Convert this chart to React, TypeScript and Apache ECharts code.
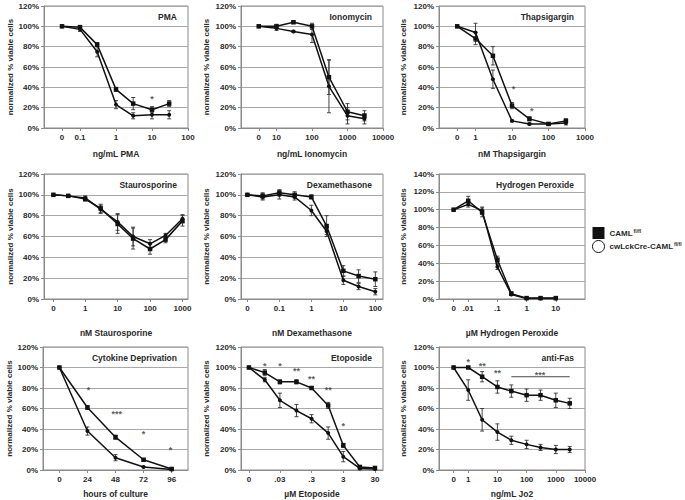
import React, { useEffect, useRef } from "react";
import * as echarts from "echarts";

// ---------------- DATA ----------------
// PMA
const PMA_CONC = [0, 0.1, 0.3, 1, 3, 10, 30];
const PMA_CAML = [100, 99, 82, 38, 24, 18, 24];
const PMA_CAML_ERR = [0, 2, 2, 2, 6, 3, 3];
const PMA_KO = [100, 97, 75, 23, 12, 13, 13];
const PMA_KO_ERR = [0, 2, 5, 4, 3, 4, 4];
const PMA_TICKS = [0, 0.1, 1, 10, 100];
const PMA_TICK_LABELS = ["0", "0.1", "1", "10", "100"];
const PMA_STAR_X = [10];
const PMA_STAR_Y = [31];
const PMA_STAR_TEXT = ["*"];

// Ionomycin
const IONO_CONC = [0, 10, 30, 100, 300, 1000, 3000];
const IONO_CAML = [100, 100, 104, 100, 50, 16, 12];
const IONO_CAML_ERR = [0, 2, 1, 3, 17, 8, 5];
const IONO_KO = [100, 98, 95, 92, 41, 12, 9];
const IONO_KO_ERR = [0, 2, 1, 8, 26, 8, 5];
const IONO_TICKS = [0, 10, 100, 1000, 10000];
const IONO_TICK_LABELS = ["0", "10", "100", "1000", "10000"];

// Thapsigargin
const THAP_CONC = [0, 1, 3, 10, 30, 100, 300];
const THAP_CAML = [100, 88, 71, 22, 9, 4, 7];
const THAP_CAML_ERR = [0, 6, 9, 3, 2, 1, 2];
const THAP_KO = [100, 94, 48, 7, 4, 4, 5];
const THAP_KO_ERR = [0, 9, 9, 1, 1, 1, 2];
const THAP_TICKS = [0, 1, 10, 100, 1000];
const THAP_TICK_LABELS = ["0", "1", "10", "100", "1000"];
const THAP_STAR_X = [11, 35];
const THAP_STAR_Y = [41, 20];
const THAP_STAR_TEXT = ["*", "*"];

// Staurosporine
const STAU_CONC = [0, 0.3, 1, 3, 10, 30, 100, 300, 1000];
const STAU_CAML = [100, 99, 96, 87, 72, 58, 48, 57, 75];
const STAU_CAML_ERR = [0, 1, 2, 4, 9, 10, 5, 3, 5];
const STAU_KO = [100, 99, 97, 86, 74, 60, 53, 61, 77];
const STAU_KO_ERR = [0, 1, 2, 4, 8, 9, 4, 2, 4];
const STAU_TICKS = [0, 1, 10, 100, 1000];
const STAU_TICK_LABELS = ["0", "1", "10", "100", "1000"];

// Dexamethasone
const DEXA_CONC = [0, 0.03, 0.1, 0.3, 1, 3, 10, 30, 100];
const DEXA_CAML = [100, 99, 102, 100, 98, 70, 27, 22, 19];
const DEXA_CAML_ERR = [0, 3, 3, 3, 2, 10, 5, 6, 7];
const DEXA_KO = [100, 98, 100, 98, 85, 65, 18, 12, 7];
const DEXA_KO_ERR = [0, 3, 4, 3, 5, 3, 4, 3, 3];
const DEXA_TICKS = [0, 0.1, 1, 10, 100];
const DEXA_TICK_LABELS = ["0", "0.1", "1", "10", "100"];

// Hydrogen peroxide
const H2O2_CONC = [0, 0.01, 0.03, 0.1, 0.3, 1, 3, 10];
const H2O2_CAML = [100, 110, 97, 44, 6, 1, 1, 1];
const H2O2_CAML_ERR = [0, 5, 5, 4, 2, 0, 0, 0];
const H2O2_KO = [100, 106, 99, 36, 5, 0.5, 0.5, 0.5];
const H2O2_KO_ERR = [0, 3, 4, 3, 1, 0, 0, 0];
const H2O2_TICKS = [0, 0.01, 0.1, 1, 10];
const H2O2_TICK_LABELS = ["0", ".01", ".1", "1", "10"];

// Cytokine deprivation
const CYTO_HOURS = [0, 24, 48, 72, 96];
const CYTO_CAML = [100, 61, 32, 10, 1];
const CYTO_CAML_ERR = [0, 2, 2, 1, 1];
const CYTO_KO = [100, 38, 12, 3, 0.5];
const CYTO_KO_ERR = [0, 4, 3, 0.5, 0];
const CYTO_TICKS = [0, 24, 48, 72, 96];
const CYTO_TICK_LABELS = ["0", "24", "48", "72", "96"];
const CYTO_STAR_X = [25, 49, 72, 95];
const CYTO_STAR_Y = [81, 58, 38, 22];
const CYTO_STAR_TEXT = ["*", "***", "*", "*"];

// Etoposide
const ETOP_CONC = [0, 0.01, 0.03, 0.1, 0.3, 1, 3, 10, 30];
const ETOP_CAML = [100, 95, 86, 86, 80, 63, 24, 3, 2];
const ETOP_CAML_ERR = [0, 3, 2, 2, 1, 3, 2, 1, 1];
const ETOP_KO = [100, 88, 68, 58, 50, 36, 13, 1.5, 1];
const ETOP_KO_ERR = [0, 2, 7, 6, 4, 6, 5, 1, 0.5];
const ETOP_TICKS = [0, 0.03, 0.3, 3, 30];
const ETOP_TICK_LABELS = ["0", ".03", ".3", "3", "30"];
const ETOP_STAR_X = [0.01, 0.03, 0.1, 0.3, 1, 3];
const ETOP_STAR_Y = [104.5, 104.5, 100, 91.5, 81, 45.5];
const ETOP_STAR_TEXT = ["*", "*", "**", "**", "**", "*"];

// anti-Fas
const FAS_CONC = [0, 1, 3, 10, 30, 100, 300, 1000, 3000];
const FAS_CAML = [100, 100, 91, 81, 77, 73, 73, 68, 65];
const FAS_CAML_ERR = [0, 1, 5, 6, 6, 6, 5, 7, 5];
const FAS_KO = [100, 78, 49, 37, 29, 25, 22, 20, 20];
const FAS_KO_ERR = [0, 10, 11, 8, 4, 4, 3, 4, 3];
const FAS_TICKS = [0, 1, 10, 100, 1000, 10000];
const FAS_TICK_LABELS = ["0", "1", "10", "100", "1000", "10000"];
const FAS_STAR_X = [1, 3, 10, 290];
const FAS_STAR_Y = [108.5, 104.5, 98, 95.5];
const FAS_STAR_TEXT = ["*", "**", "**", "***"];
const FAS_BRACKET_X = [30, 3000];
const FAS_BRACKET_Y = 91;

const SERIES_NAMES = ["CAML", "cwLckCre-CAML"];
const Y_TITLE = "normalized % viable cells";

// ---------------- LAYOUT ----------------
const FONT = "'Liberation Sans', Arial, sans-serif";
const TEXT = "#2a2a2a";

type Panel = {
  title: string;
  xName: string;
  conc: number[];
  caml: number[];
  camlErr: number[];
  ko: number[];
  koErr: number[];
  ticks: number[];
  tickLabels: string[];
  starX?: number[];
  starY?: number[];
  starText?: string[];
  bracketX?: number[];
  bracketY?: number;
  linear?: boolean;
  zero: number;
  xMin: number;
  xMax: number;
  yMax: number;
  box: [number, number, number, number];
  xNameGap: number;
  yNameGap: number;
};

const panels: Panel[] = [
  { title: "PMA", xName: "ng/mL PMA", conc: PMA_CONC, caml: PMA_CAML, camlErr: PMA_CAML_ERR, ko: PMA_KO, koErr: PMA_KO_ERR, ticks: PMA_TICKS, tickLabels: PMA_TICK_LABELS, starX: PMA_STAR_X, starY: PMA_STAR_Y, starText: PMA_STAR_TEXT, zero: -1.5, xMin: -2, xMax: 2, yMax: 120, box: [44, 6, 144, 122], xNameGap: 21, yNameGap: 28 },
  { title: "Ionomycin", xName: "ng/mL Ionomycin", conc: IONO_CONC, caml: IONO_CAML, camlErr: IONO_CAML_ERR, ko: IONO_KO, koErr: IONO_KO_ERR, ticks: IONO_TICKS, tickLabels: IONO_TICK_LABELS, zero: 0.5, xMin: 0, xMax: 4, yMax: 120, box: [241, 6, 142, 122], xNameGap: 21, yNameGap: 31 },
  { title: "Thapsigargin", xName: "nM Thapsigargin", conc: THAP_CONC, caml: THAP_CAML, camlErr: THAP_CAML_ERR, ko: THAP_KO, koErr: THAP_KO_ERR, ticks: THAP_TICKS, tickLabels: THAP_TICK_LABELS, starX: THAP_STAR_X, starY: THAP_STAR_Y, starText: THAP_STAR_TEXT, zero: -0.5, xMin: -1, xMax: 3, yMax: 120, box: [439, 6, 146, 122], xNameGap: 21, yNameGap: 32 },
  { title: "Staurosporine", xName: "nM Staurosporine", conc: STAU_CONC, caml: STAU_CAML, camlErr: STAU_CAML_ERR, ko: STAU_KO, koErr: STAU_KO_ERR, ticks: STAU_TICKS, tickLabels: STAU_TICK_LABELS, zero: -0.98, xMin: -1.27, xMax: 3.17, yMax: 120, box: [44, 174, 144, 125], xNameGap: 29, yNameGap: 28 },
  { title: "Dexamethasone", xName: "nM Dexamethasone", conc: DEXA_CONC, caml: DEXA_CAML, camlErr: DEXA_CAML_ERR, ko: DEXA_KO, koErr: DEXA_KO_ERR, ticks: DEXA_TICKS, tickLabels: DEXA_TICK_LABELS, zero: -2, xMin: -2.2, xMax: 2.24, yMax: 120, box: [241, 174, 142, 125], xNameGap: 29, yNameGap: 31 },
  { title: "Hydrogen Peroxide", xName: "µM Hydrogen Peroxide", conc: H2O2_CONC, caml: H2O2_CAML, camlErr: H2O2_CAML_ERR, ko: H2O2_KO, koErr: H2O2_KO_ERR, ticks: H2O2_TICKS, tickLabels: H2O2_TICK_LABELS, zero: -2.5, xMin: -3, xMax: 2, yMax: 140, box: [439, 174, 146, 125], xNameGap: 29, yNameGap: 32 },
  { title: "Cytokine Deprivation", xName: "hours of culture", conc: CYTO_HOURS, caml: CYTO_CAML, camlErr: CYTO_CAML_ERR, ko: CYTO_KO, koErr: CYTO_KO_ERR, ticks: CYTO_TICKS, tickLabels: CYTO_TICK_LABELS, starX: CYTO_STAR_X, starY: CYTO_STAR_Y, starText: CYTO_STAR_TEXT, linear: true, zero: 0, xMin: -14, xMax: 110, yMax: 120, box: [43, 347, 145, 123], xNameGap: 19, yNameGap: 28 },
  { title: "Etoposide", xName: "µM Etoposide", conc: ETOP_CONC, caml: ETOP_CAML, camlErr: ETOP_CAML_ERR, ko: ETOP_KO, koErr: ETOP_KO_ERR, ticks: ETOP_TICKS, tickLabels: ETOP_TICK_LABELS, starX: ETOP_STAR_X, starY: ETOP_STAR_Y, starText: ETOP_STAR_TEXT, zero: -2.5, xMin: -2.75, xMax: 1.73, yMax: 120, box: [241, 347, 142, 123], xNameGap: 19, yNameGap: 31 },
  { title: "anti-Fas", xName: "ng/mL Jo2", conc: FAS_CONC, caml: FAS_CAML, camlErr: FAS_CAML_ERR, ko: FAS_KO, koErr: FAS_KO_ERR, ticks: FAS_TICKS, tickLabels: FAS_TICK_LABELS, starX: FAS_STAR_X, starY: FAS_STAR_Y, starText: FAS_STAR_TEXT, bracketX: FAS_BRACKET_X, bracketY: FAS_BRACKET_Y, zero: -0.5, xMin: -1, xMax: 4, yMax: 120, box: [439, 347, 146, 123], xNameGap: 19, yNameGap: 32 },
];

function buildOption() {
  const grid: any[] = [];
  const xAxis: any[] = [];
  const yAxis: any[] = [];
  const title: any[] = [];
  const series: any[] = [];

  panels.forEach((p, i) => {
    const pos = (c: number) => (p.linear ? c : c === 0 ? p.zero : Math.log10(c));
    const tickPos = p.ticks.map(pos);
    const [l, t, w, h] = p.box;
    grid.push({ left: l, top: t, width: w, height: h, show: true, borderColor: "#8a8a8a", borderWidth: 1, backgroundColor: "transparent", containLabel: false, outerBoundsMode: "none" });
    xAxis.push({
      type: "value", gridIndex: i, min: p.xMin, max: p.xMax,
      axisLine: { show: true, onZero: false, lineStyle: { color: "#8a8a8a", width: 1 } },
      axisTick: { show: true, customValues: tickPos, length: 3, lineStyle: { color: "#8a8a8a" } },
      axisLabel: {
        customValues: tickPos, margin: 5, fontSize: 8, fontWeight: "bold", color: TEXT, fontFamily: FONT,
        formatter: (v: number) => {
          let best = 0, d = Infinity;
          tickPos.forEach((tp, k) => { const dd = Math.abs(tp - v); if (dd < d) { d = dd; best = k; } });
          return p.tickLabels[best];
        },
      },
      splitLine: { show: false },
      name: p.xName, nameLocation: "middle", nameGap: p.xNameGap,
      nameTextStyle: { fontSize: 8.5, fontWeight: "bold", color: TEXT, fontFamily: FONT },
    });
    yAxis.push({
      type: "value", gridIndex: i, min: 0, max: p.yMax, interval: 20,
      axisLine: { show: true, onZero: false, lineStyle: { color: "#8a8a8a", width: 1 } },
      axisTick: { show: true, length: 3, lineStyle: { color: "#8a8a8a" } },
      axisLabel: { formatter: "{value}%", margin: 5, fontSize: 8, fontWeight: "bold", color: TEXT, fontFamily: FONT },
      splitLine: { show: true, lineStyle: { color: "#a8a8a8", width: 1 } },
      name: Y_TITLE, nameLocation: "middle", nameRotate: 90, nameGap: p.yNameGap,
      nameTextStyle: { fontSize: 8, fontWeight: "bold", color: TEXT, fontFamily: FONT },
    });
    title.push({
      text: p.title, right: 685 - (l + w) + 6, top: t + 1,
      textStyle: { fontSize: 8.5, fontWeight: "bold", color: TEXT, fontFamily: FONT },
    });

    const errData = (vals: number[], errs: number[]) =>
      p.conc.map((c, j) => [pos(c), vals[j] - errs[j], vals[j] + errs[j]]).filter((_, j) => errs[j] > 0);

    series.push({
      type: "custom", xAxisIndex: i, yAxisIndex: i, z: 1, silent: true,
      data: [...errData(p.caml, p.camlErr), ...errData(p.ko, p.koErr)],
      encode: { x: 0, y: [1, 2] },
      renderItem: (_params: any, api: any) => {
        const x = api.value(0);
        const a = api.coord([x, api.value(2)]);
        const b = api.coord([x, api.value(1)]);
        const cw = 2;
        const st = { stroke: "#333", lineWidth: 0.9 };
        return {
          type: "group",
          children: [
            { type: "line", shape: { x1: a[0], y1: a[1], x2: b[0], y2: b[1] }, style: st },
            { type: "line", shape: { x1: a[0] - cw, y1: a[1], x2: a[0] + cw, y2: a[1] }, style: st },
            { type: "line", shape: { x1: b[0] - cw, y1: b[1], x2: b[0] + cw, y2: b[1] }, style: st },
          ],
        };
      },
    });
    series.push({
      type: "line", name: SERIES_NAMES[0], xAxisIndex: i, yAxisIndex: i, z: 3,
      data: p.conc.map((c, j) => [pos(c), p.caml[j]]),
      symbol: "rect", symbolSize: 4.5, showSymbol: true,
      itemStyle: { color: "#111" }, lineStyle: { color: "#111", width: 1.5 },
    });
    series.push({
      type: "line", name: SERIES_NAMES[1], xAxisIndex: i, yAxisIndex: i, z: 3,
      data: p.conc.map((c, j) => [pos(c), p.ko[j]]),
      symbol: "circle", symbolSize: 4, showSymbol: true,
      itemStyle: { color: "#111" }, lineStyle: { color: "#111", width: 1.5 },
    });
    if (p.starX && p.starY && p.starText) {
      series.push({
        type: "scatter", xAxisIndex: i, yAxisIndex: i, z: 4, silent: true,
        symbolSize: 1, itemStyle: { color: "rgba(0,0,0,0)" },
        data: p.starX.map((sx, k) => ({ value: [pos(sx), p.starY![k]], name: p.starText![k] })),
        label: { show: true, position: "inside", formatter: "{b}", offset: [0, 3], fontSize: 9, fontWeight: "bold", color: "#333", fontFamily: FONT },
      });
    }
    if (p.bracketX && p.bracketY !== undefined) {
      series.push({
        type: "line", xAxisIndex: i, yAxisIndex: i, z: 4, silent: true, symbol: "none",
        data: p.bracketX.map((bx) => [pos(bx), p.bracketY]),
        lineStyle: { color: "#333", width: 0.9 },
      });
    }
  });

  return {
    animation: false,
    backgroundColor: "#ffffff",
    title,
    grid,
    xAxis,
    yAxis,
    series,
    legend: {
      left: 587, top: 222, orient: "vertical", itemWidth: 12, itemHeight: 12, itemGap: 1,
      selectedMode: false,
      data: [
        { name: SERIES_NAMES[0], icon: "rect", itemStyle: { color: "#111", borderWidth: 0 } },
        { name: SERIES_NAMES[1], icon: "circle", itemStyle: { color: "#fff", borderColor: "#111", borderWidth: 1 } },
      ],
      formatter: (name: string) => `{m|${name}}{s|fl/fl}`,
      textStyle: {
        fontFamily: FONT, color: TEXT,
        rich: {
          m: { fontSize: 8, fontWeight: "bold", fontFamily: FONT, color: TEXT, lineHeight: 13 },
          s: { fontSize: 5, fontWeight: "bold", fontFamily: FONT, color: TEXT, padding: [0, 0, 5, 1] },
        },
      },
    },
  };
}

export default function App() {
  const ref = useRef<HTMLDivElement>(null);
  useEffect(() => {
    if (!ref.current) return;
    const chart = echarts.init(ref.current, undefined, { renderer: "svg" });
    chart.setOption(buildOption() as any);
    return () => chart.dispose();
  }, []);
  return (
    <div
      ref={ref}
      style={{ position: "fixed", left: 0, top: 0, width: 685, height: 500, background: "#fff" }}
    />
  );
}
